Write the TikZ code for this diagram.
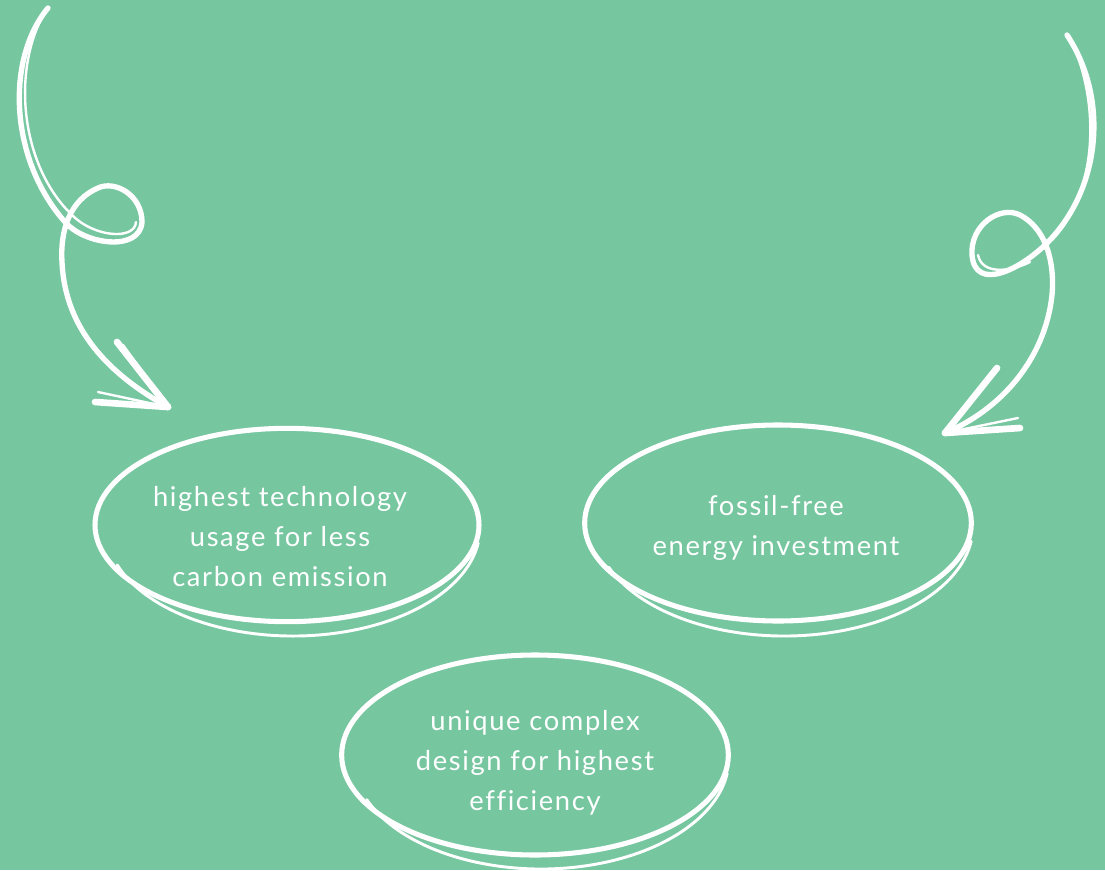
\documentclass[tikz,border=0pt]{standalone}
\usepackage{fontspec}
\setmainfont{Lato}[LetterSpace=6,Ligatures={NoCommon}]
\usetikzlibrary{shapes.geometric}
\definecolor{bg}{HTML}{76C6A0}
\tikzset{
  blob/.style={ellipse, draw=white, line width=3.8pt, inner sep=0pt},
  shadowline/.style={draw=white, line width=2.2pt, line cap=round},
  lbl/.style={text=white, align=center, font=\fontsize{20.5}{30}\selectfont},
  curl/.style={draw=white, line width=4pt, line cap=round, line join=round},
  curlthin/.style={draw=white, line width=1.8pt, line cap=round, line join=round},
  barb/.style={draw=white, line width=5pt, line cap=round}
}
\begin{document}
\begin{tikzpicture}[x=0.75pt,y=-0.75pt]
\fill[bg] (0,0) rectangle (1105,870);
\useasboundingbox (0,0) rectangle (1105,870);

% ellipses
\node[blob, minimum width=288pt, minimum height=145pt] (e1) at (287,525) {};
\node[blob, minimum width=290pt, minimum height=147pt] (e2) at (778,523) {};
\node[blob, minimum width=290pt, minimum height=150pt] (e3) at (535,755) {};

% lower second strokes
\path[shadowline] ([shift={(6,3)}]e1.center) ++(160:187 and 108)
  arc[start angle=160, end angle=8, x radius=187, y radius=108];
\path[shadowline] ([shift={(6,3)}]e2.center) ++(158:189 and 110)
  arc[start angle=158, end angle=8, x radius=189, y radius=110];
\path[shadowline] ([shift={(6,3)}]e3.center) ++(158:188 and 111)
  arc[start angle=158, end angle=8, x radius=188, y radius=111];

% labels
\node[lbl] (t1) at (280,537) {highest technology\\usage for less\\carbon emission};
\node[lbl] (t2) at (776,528) {fossil-free\\energy investment};
\node[lbl] (t3) at (535,763) {unique complex\\design for highest\\efficiency};

% left curly arrow
\coordinate (la) at (48,8);
\coordinate (lx) at (65,222);
\coordinate (lt) at (168,407);
\path[curl] (la) .. controls (5,60) and (10,160) .. (lx)
  .. controls (85,245) and (140,252) .. (142,222)
  .. controls (142,195) and (115,180) .. (98,188)
  .. controls (70,200) and (60,230) .. (62,262)
  .. controls (65,330) and (110,375) .. (lt);
\path[curlthin] (44,14) .. controls (12,70) and (20,165) .. (72,215)
  .. controls (95,238) and (135,240) .. (136,222);
\path[barb] (lt) -- (117,342);
\path[barb] (lt) -- (95,402);
\path[curlthin] (lt) -- (123,345);
\path[curlthin] (lt) -- (98,392);

% right curly arrow
\coordinate (ra) at (1067,35);
\coordinate (rx) at (1047,243);
\coordinate (rt) at (945,433);
\path[curl] (ra) .. controls (1110,100) and (1100,190) .. (rx)
  .. controls (1020,270) and (975,292) .. (972,255)
  .. controls (970,225) and (1000,205) .. (1020,215)
  .. controls (1045,228) and (1055,260) .. (1052,295)
  .. controls (1045,360) and (1000,410) .. (rt);
\path[curlthin] (1072,42) .. controls (1102,110) and (1095,195) .. (1052,240);
\path[curlthin] (978,255) .. controls (982,275) and (1010,272) .. (1030,262);
\path[barb] (rt) -- (997,368);
\path[barb] (rt) -- (1020,428);
\path[curlthin] (rt) -- (992,372);
\path[curlthin] (rt) -- (1018,418);
\end{tikzpicture}
\end{document}
